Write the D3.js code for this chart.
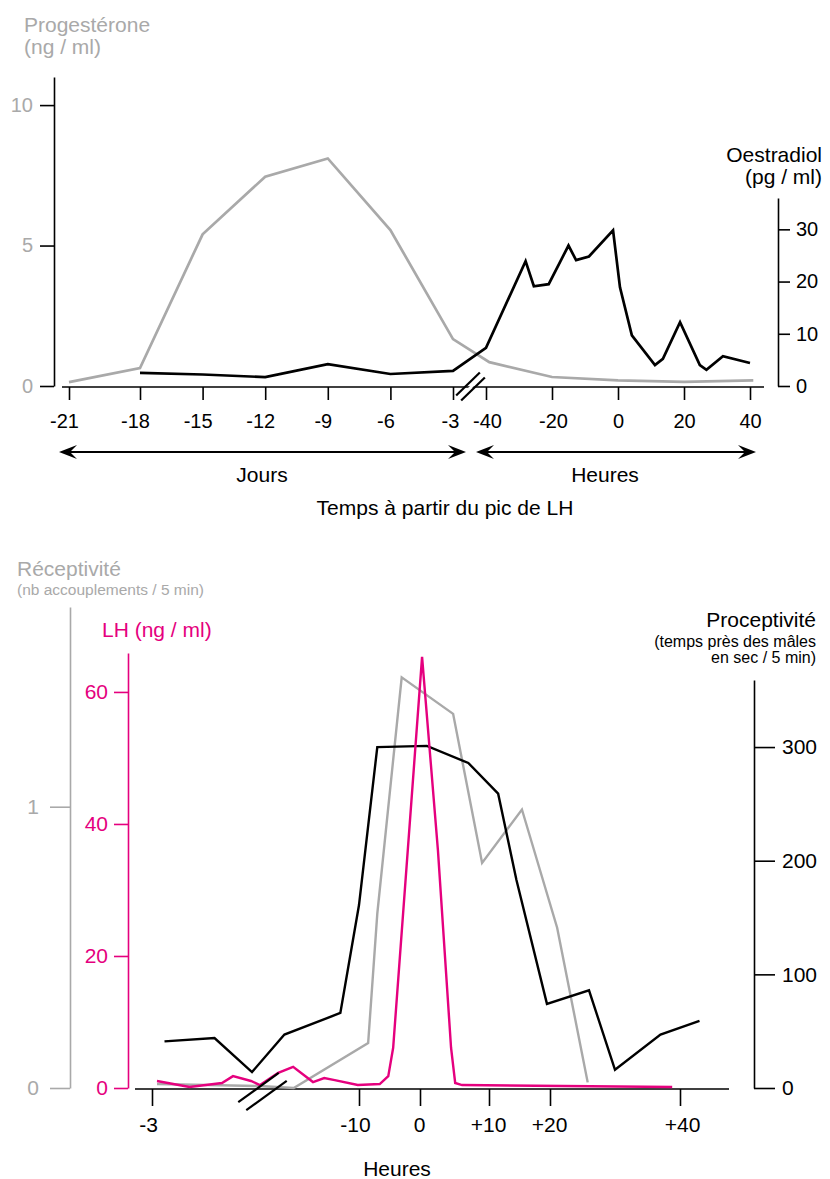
<!DOCTYPE html>
<html><head><meta charset="utf-8">
<script src="https://cdn.jsdelivr.net/npm/d3@7"></script>
<style>
html,body{margin:0;padding:0;background:#fff;}
svg{display:block;font-family:"Liberation Sans",Arial,Helvetica,sans-serif;}
</style></head>
<body><svg id="chart" width="830" height="1179"></svg>
<script>
// ---------- DATA : top chart ----------
const dayTicks = [-21,-18,-15,-12,-9,-6,-3];
const dayTickLabels = ["-21","-18","-15","-12","-9","-6","-3"];
const hourTicksTop = [-40,-20,0,20,40];
const hourTickLabelsTop = ["-40","-20","0","20","40"];
const progTicks = [0,5,10];
const oesTicks = [0,10,20,30];

const progDays = [-21,-18,-15,-12,-9,-6,-3];
const progDayVals = [0.14,0.64,5.4,7.45,8.1,5.55,1.67];
const progHours = [-39,-20,0,20,41];
const progHourVals = [0.85,0.32,0.2,0.15,0.2];

const oesDays = [-18,-15,-12,-9,-6,-3];
const oesDayVals = [2.5,2.2,1.7,4.2,2.3,2.9];
const oesHours = [-40,-28,-25.5,-21,-15,-12.7,-8.8,-1.5,0.6,4.2,11.2,13.6,18.8,24.8,26.8,31.8,40];
const oesHourVals = [7.3,23.9,19.1,19.5,26.9,24.1,24.8,29.8,18.9,9.7,4.0,5.2,12.2,4.0,3.1,5.7,4.4];

// ---------- DATA : bottom chart ----------
const hourTicksBot = [-72,-10,0,10,20,40];
const hourTickLabelsBot = ["-3","-10","0","+10","+20","+40"];
const recepTicks = [0,1];
const lhTicks = [0,20,40,60];
const procTicks = [0,100,200,300];

const procHours = [-67,-47,-32,-22,-13,-10,-7,1,7,11.5,14.5,19.5,26,30,37,43];
const procVals = [41,44,14,47,66,161,300,301,286,259,183,74,86,16,47,59];

const recepHours = [-70,-29,-20.5,-8.5,-7,-3,4.8,9,15.4,21.1,25.8];
const recepVals = [0.014,0.007,0,0.16,0.62,1.46,1.33,0.80,0.99,0.57,0.02];

const lhHours = [-70,-57,-44,-39.6,-32.4,-28.8,-23,-20.6,-17.4,-15.6,-13.9,-10.2,-6.6,-5.2,-4.4,0.3,2.6,4.5,5.1,6.1,38.8];
const lhVals = [1.06,0.15,0.76,1.8,1.06,0.45,2.3,3.2,0.9,1.5,1.2,0.45,0.6,1.8,6.1,65.3,36,6.1,0.76,0.45,0.15];

// ---------- STYLE ----------
const GRAY = "#a9a9a9";
const PINK = "#e5007e";

const svg = d3.select("#chart");

function styleAxis(g, color, textColor, fs){
  g.selectAll("path.domain").attr("stroke", color).attr("stroke-width", 1.6);
  g.selectAll(".tick line").attr("stroke", color).attr("stroke-width", 1.6);
  g.selectAll(".tick text").attr("fill", textColor).style("font-size", (fs||20)+"px")
    .style("font-family", '"Liberation Sans",Arial,sans-serif');
}

function arrow(g, x1, x2, y){
  g.append("line").attr("x1", x1+8).attr("x2", x2-8).attr("y1", y).attr("y2", y)
    .attr("stroke", "#000").attr("stroke-width", 1.8);
  const head = (tip, dir) => {
    const p = d3.path();
    p.moveTo(tip, y);
    p.lineTo(tip - dir*18, y - 7);
    p.lineTo(tip - dir*11, y);
    p.lineTo(tip - dir*18, y + 7);
    p.closePath();
    g.append("path").attr("d", p.toString()).attr("fill", "#000");
  };
  head(x1, -1); head(x2, 1);
}

function breakMarks(cx, cy, gap, len, ang){
  const dx = Math.cos(ang)*len/2, dy = Math.sin(ang)*len/2;
  [-gap/2, gap/2].forEach(o => {
    svg.append("line")
      .attr("x1", cx + o - dx).attr("y1", cy + o + dy)
      .attr("x2", cx + o + dx).attr("y2", cy + o - dy)
      .attr("stroke", "#000").attr("stroke-width", 2.2);
  });
}

// =============== TOP CHART ===============
const xDays = d3.scaleLinear().domain([-21,-18,-3]).range([69,140,453]);
const xHours = d3.scaleLinear().domain([-40,40]).range([486,750]);
const yProg = d3.scaleLinear().domain([0,11]).range([386,77]);
const yOes = d3.scaleLinear().domain([0,36]).range([386,198]);
const axisY = 387;

svg.append("line").attr("x1", xDays(-21)-7).attr("x2", xHours(40)+14)
  .attr("y1", axisY).attr("y2", axisY).attr("stroke", "#000").attr("stroke-width", 1.6);

const gxd = svg.append("g").attr("transform", `translate(0,${axisY})`)
  .call(d3.axisBottom(xDays).tickValues(dayTicks).tickSize(13).tickSizeOuter(0)
        .tickFormat((d,i)=>dayTickLabels[i]));
gxd.select("path.domain").remove();
styleAxis(gxd, "#000", "#000", 20);
gxd.selectAll(".tick text").attr("y", 41).attr("dy", 0).attr("dx", d => d === -3 ? -3 : -5);

const gxh = svg.append("g").attr("transform", `translate(0,${axisY})`)
  .call(d3.axisBottom(xHours).tickValues(hourTicksTop).tickSize(13).tickSizeOuter(0)
        .tickFormat((d,i)=>hourTickLabelsTop[i]));
gxh.select("path.domain").remove();
styleAxis(gxh, "#000", "#000", 20);
gxh.selectAll(".tick text").attr("y", 41).attr("dy", 0).attr("dx", d => d < 0 ? 1 : 0);

// white gap + break marks
const bx = (xDays(-3)+xHours(-40))/2 + 1;
svg.append("polygon")
  .attr("points", [[bx-12,398],[bx-8,398],[bx+14,375],[bx+10,375]].map(p=>p.join(",")).join(" "))
  .attr("fill", "#fff");
breakMarks(bx, 386.5, 5, 33, Math.PI/4*0.98);

const gyl = svg.append("g").attr("transform", "translate(54,0)")
  .call(d3.axisLeft(yProg).tickValues(progTicks).tickSize(14).tickSizeOuter(0).tickPadding(7)
        .tickFormat(d3.format("d")));
styleAxis(gyl, "#000", GRAY, 20);

const gyr = svg.append("g").attr("transform", "translate(778,0)")
  .call(d3.axisRight(yOes).tickValues(oesTicks).tickSize(12).tickSizeOuter(0).tickPadding(6)
        .tickFormat(d3.format("d")));
styleAxis(gyr, "#000", "#000", 20);

const progPts = progDays.map((d,i)=>[xDays(d), yProg(progDayVals[i])])
  .concat(progHours.map((h,i)=>[xHours(h), yProg(progHourVals[i])]));
const oesPts = oesDays.map((d,i)=>[xDays(d), yOes(oesDayVals[i])])
  .concat(oesHours.map((h,i)=>[xHours(h), yOes(oesHourVals[i])]));
const line = d3.line();
svg.append("path").attr("d", line(progPts)).attr("fill","none").attr("stroke", GRAY)
  .attr("stroke-width", 2.7);
svg.append("path").attr("d", line(oesPts)).attr("fill","none").attr("stroke", "#000")
  .attr("stroke-width", 2.7);

svg.append("text").attr("x", 24).attr("y", 32).attr("fill", GRAY).style("font-size","21px").text("Progestérone");
svg.append("text").attr("x", 24).attr("y", 54).attr("fill", GRAY).style("font-size","21px").text("(ng / ml)");
svg.append("text").attr("x", 822).attr("y", 162).attr("text-anchor","end").attr("fill","#000").style("font-size","21px").text("Oestradiol");
svg.append("text").attr("x", 822).attr("y", 184).attr("text-anchor","end").attr("fill","#000").style("font-size","21px").text("(pg / ml)");

const ga = svg.append("g");
arrow(ga, 59, 466, 452);
arrow(ga, 476, 756, 452);
svg.append("text").attr("x", 262).attr("y", 482).attr("text-anchor","middle").style("font-size","21px").text("Jours");
svg.append("text").attr("x", 605).attr("y", 482).attr("text-anchor","middle").style("font-size","21px").text("Heures");
svg.append("text").attr("x", 445).attr("y", 515).attr("text-anchor","middle").style("font-size","21px").text("Temps à partir du pic de LH");

// =============== BOTTOM CHART ===============
const xB = d3.scaleLinear().domain([-72,-24,-10,0,10,20,40]).range([152,272,359,420,489,550,680]);
const yRecep = d3.scaleLinear().domain([0,1.71]).range([1088,607]);
const yLH = d3.scaleLinear().domain([0,65.9]).range([1088,653]);
const yProc = d3.scaleLinear().domain([0,359]).range([1088,680]);
const axisYB = 1089;

svg.append("line").attr("x1", 135).attr("x2", 729).attr("y1", axisYB).attr("y2", axisYB)
  .attr("stroke","#000").attr("stroke-width",1.6);
const gxb = svg.append("g").attr("transform", `translate(0,${axisYB})`)
  .call(d3.axisBottom(xB).tickValues(hourTicksBot).tickSize(17).tickSizeOuter(0)
        .tickFormat((d,i)=>hourTickLabelsBot[i]));
gxb.select("path.domain").remove();
styleAxis(gxb, "#000", "#000", 21);
gxb.selectAll(".tick text").attr("y", 43).attr("dy", 0).attr("dx", d => d < 0 ? -4 : (d === 40 ? 2 : -1));

const gr = svg.append("g").attr("transform","translate(70,0)")
  .call(d3.axisLeft(yRecep).tickValues(recepTicks).tickSize(20).tickSizeOuter(0).tickPadding(11)
        .tickFormat(d3.format("d")));
styleAxis(gr, GRAY, GRAY, 21);
const gl = svg.append("g").attr("transform","translate(128,0)")
  .call(d3.axisLeft(yLH).tickValues(lhTicks).tickSize(14).tickSizeOuter(0).tickPadding(6)
        .tickFormat(d3.format("d")));
styleAxis(gl, PINK, PINK, 21);
const gp = svg.append("g").attr("transform","translate(754,0)")
  .call(d3.axisRight(yProc).tickValues(procTicks).tickSize(21).tickSizeOuter(0).tickPadding(7)
        .tickFormat(d3.format("d")));
styleAxis(gp, "#000", "#000", 21);

const lineB = (xs, ys, yScale) => d3.line()(xs.map((h,i)=>[xB(h), yScale(ys[i])]));
svg.append("path").attr("d", lineB(recepHours, recepVals, yRecep)).attr("fill","none")
  .attr("stroke", GRAY).attr("stroke-width", 2.4);
svg.append("path").attr("d", lineB(procHours, procVals, yProc)).attr("fill","none")
  .attr("stroke", "#000").attr("stroke-width", 2.4);
svg.append("path").attr("d", lineB(lhHours, lhVals, yLH)).attr("fill","none")
  .attr("stroke", PINK).attr("stroke-width", 2.4);

breakMarks(262.5, 1091.5, 8, 50, Math.PI*0.2);

svg.append("text").attr("x", 17).attr("y", 576).attr("fill", GRAY).style("font-size","21px").text("Réceptivité");
svg.append("text").attr("x", 17).attr("y", 595).attr("fill", GRAY).style("font-size","15.5px").text("(nb accouplements / 5 min)");
svg.append("text").attr("x", 102).attr("y", 637).attr("fill", PINK).style("font-size","21px").text("LH (ng / ml)");
svg.append("text").attr("x", 816).attr("y", 627).attr("text-anchor","end").style("font-size","21px").text("Proceptivité");
svg.append("text").attr("x", 816).attr("y", 647).attr("text-anchor","end").style("font-size","16px").text("(temps près des mâles");
svg.append("text").attr("x", 816).attr("y", 663).attr("text-anchor","end").style("font-size","16px").text("en sec / 5 min)");
svg.append("text").attr("x", 397).attr("y", 1176).attr("text-anchor","middle").style("font-size","21px").text("Heures");
</script></body></html>
